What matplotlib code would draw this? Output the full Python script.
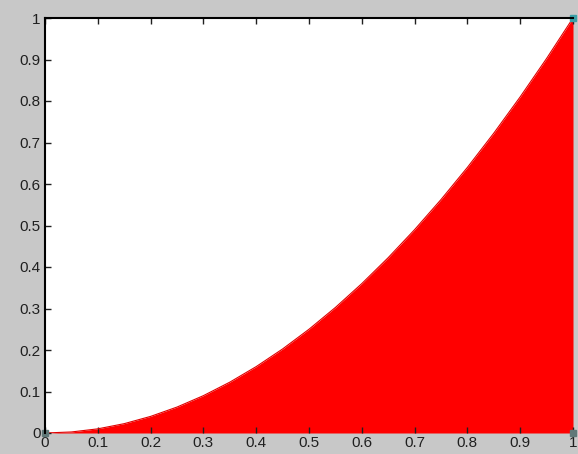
#!/usr/bin/env python3

import matplotlib
matplotlib.use('Agg')
import matplotlib.pyplot as plt

# values
x = [0.0, 0.05, 0.1, 0.15, 0.2, 0.25, 0.3, 0.35, 0.4, 0.45, 0.5,
     0.55, 0.6, 0.65, 0.7, 0.75, 0.8, 0.85, 0.9, 0.95, 1.0]
y = [0.0, 0.0025, 0.01, 0.0225, 0.04, 0.0625, 0.09, 0.1225, 0.16, 0.2025, 0.25,
     0.3025, 0.36, 0.4225, 0.49, 0.5625, 0.64, 0.7225, 0.81, 0.9025, 1.0]
xticks = [0, 0.1, 0.2, 0.3, 0.4, 0.5, 0.6, 0.7, 0.8, 0.9, 1]
yticks = [0, 0.1, 0.2, 0.3, 0.4, 0.5, 0.6, 0.7, 0.8, 0.9, 1]

plt.rcParams['font.family'] = ['Liberation Sans', 'DejaVu Sans']

fig = plt.figure(figsize=(5.78, 4.54), dpi=100, facecolor='#c8c8c8')
ax = fig.add_axes([45/578, 21/454, (573-45)/578, (433-18)/454])
ax.set_facecolor('white')

# red area under the curve
ax.fill_between(x, y, 0, color='#ff0000', linewidth=0)
ax.plot(x, y, color='#e00000', linewidth=0.8)

ax.set_xlim(0, 1)
ax.set_ylim(0, 1)
ax.set_xticks(xticks)
ax.set_yticks(yticks)
ax.set_xticklabels([f'{t:g}' for t in xticks])
ax.set_yticklabels([f'{t:g}' for t in yticks])
ax.tick_params(direction='in', length=4, width=1, labelsize=11, pad=3,
               top=True, colors='#202020')
ax.tick_params(axis='x', pad=2)

for side in ['right', 'bottom']:
    ax.spines[side].set_visible(False)
for side in ['left', 'top']:
    ax.spines[side].set_linewidth(1.5)
    ax.spines[side].set_color('black')

# little handle markers at the corners
ax.plot([1], [1], marker='s', markersize=4, color='#3aa0a8', clip_on=False)
ax.plot([0, 1], [0, 0], linestyle='', marker='s', markersize=4,
        color='#607878', clip_on=False)

fig.savefig('out.png', dpi=100, facecolor=fig.get_facecolor())
